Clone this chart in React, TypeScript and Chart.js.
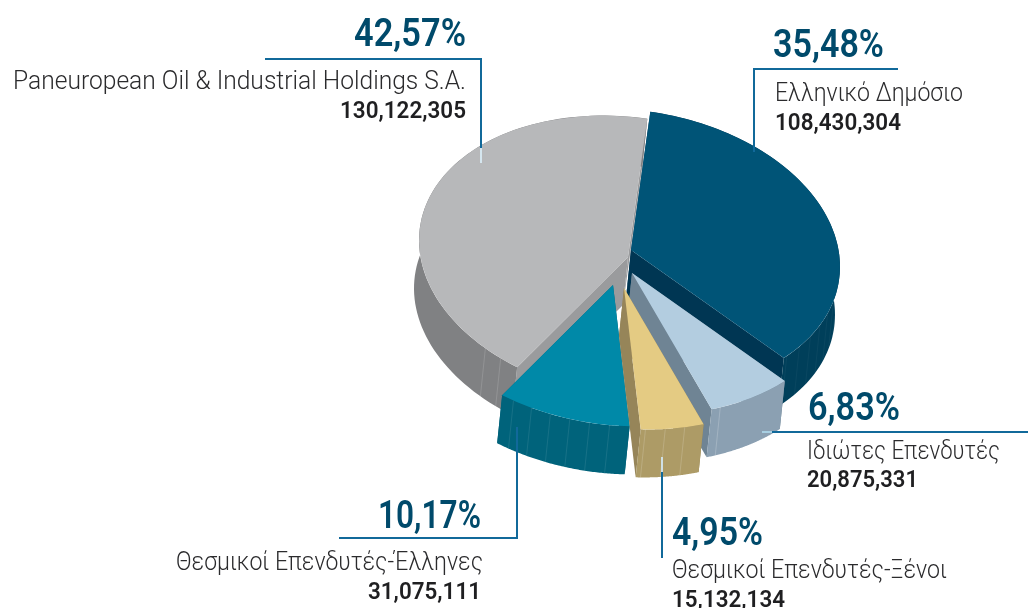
import React, { useEffect, useRef } from "react";
import { Chart, registerables } from "chart.js";

Chart.register(...registerables);

const categories = ["Ελληνικό Δημόσιο", "Ιδιώτες Επενδυτές", "Θεσμικοί Επενδυτές-Ξένοι", "Θεσμικοί Επενδυτές-Έλληνες", "Paneuropean Oil & Industrial Holdings S.A."];
const shares = [108430304, 20875331, 15132134, 31075111, 130122305];
const shareLabels = ["108,430,304", "20,875,331", "15,132,134", "31,075,111", "130,122,305"];
const percentLabels = ["35,48%", "6,83%", "4,95%", "10,17%", "42,57%"];

const topColors = ["#005477", "#b3cde0", "#e4cb83", "#0089a8", "#b7b8ba"];
const rimColors = ["#003f5a", "#8ba0b2", "#ad9b66", "#00637b", "#808183"];
const faceColors = ["#003653", "#6f8494", "#968559", "#00637b", "#9a9b9d"];

// explode vector of each slice on screen, and paint order (back to front)
const explodeX = [3, 4, -4, -15, 0];
const explodeY = [-15, 8, 23, 20, -8];
const paintOrder = [4, 0, 1, 3, 2];
// faint ribs on each rim: alpha and the part of the slice that carries them
const ribAlpha = [0.04, 0.2, 0.17, 0.09, 0.14];
const ribFrom = [0, 0.72, 0, 0, 0];
const ribTo = [1, 1, 1, 1, 0.09];
const SQUASH = 0.672;
const SHEAR = 0.08;
const DEPTH_X = -5;
const DEPTH_Y = 48;

const LEADER = "#11699a";
const leaders: [number, number, number, number, string][] = [
  [265, 59, 482, 59, LEADER],
  [481, 59, 481, 148, LEADER],
  [481, 148, 481, 163, "#d5e6ef"],
  [753, 69, 898, 69, LEADER],
  [754, 69, 754, 152, LEADER],
  [772, 432, 1028, 432, LEADER],
  [762, 432, 772, 432, "#a8cfe2"],
  [517, 427, 517, 538, LEADER],
  [339, 538, 518, 538, LEADER],
  [662, 472, 662, 558, LEADER],
  [662, 457, 662, 472, "#cfe0e6"],
];

type Label = [string, number, number, "left" | "right", string, string, number];
const PCT = "600 38px Roboto";
const NAME = "300 25px Roboto";
const NUM = "600 23px Roboto";
const PCTC = "#004a6b";
const NAMEC = "#2b2b2d";
const NUMC = "#1f1f21";
const labels: Label[] = [
  [percentLabels[4], 466, 46, "right", PCT, PCTC, 112],
  [categories[4], 466, 89, "right", NAME, NAMEC, 453],
  [shareLabels[4], 466, 118, "right", NUM, NUMC, 126],
  [percentLabels[0], 773, 57, "left", PCT, PCTC, 111],
  [categories[0], 775, 101, "left", NAME, NAMEC, 188],
  [shareLabels[0], 775, 130, "left", NUM, NUMC, 126],
  [percentLabels[1], 808, 420, "left", PCT, PCTC, 92],
  [categories[1], 807, 459, "left", NAME, NAMEC, 193],
  [shareLabels[1], 807, 487, "left", NUM, NUMC, 111],
  [percentLabels[2], 672, 545, "left", PCT, PCTC, 91],
  [categories[2], 672, 578, "left", NAME, NAMEC, 275],
  [shareLabels[2], 672, 607, "left", NUM, NUMC, 113],
  [percentLabels[3], 481, 528, "right", PCT, PCTC, 103],
  [categories[3], 483, 570, "right", NAME, NAMEC, 307],
  [shareLabels[3], 481, 599, "right", NUM, NUMC, 113],
];

const pie3d = {
  id: "pie3d",
  beforeDatasetDraw(chart: any) {
    const ctx: CanvasRenderingContext2D = chart.ctx;
    const arcs = chart.getDatasetMeta(0).data;
    for (const i of paintOrder) {
      const arc = arcs[i];
      const { x, y, startAngle, endAngle, outerRadius: r } = arc.getProps(["x", "y", "startAngle", "endAngle", "outerRadius"], true);
      const px = (a: number) => Math.cos(a) * r;
      const py = (a: number) => Math.sin(a) * r * SQUASH + Math.cos(a) * r * SHEAR;
      const span = endAngle - startAngle;
      ctx.save();
      ctx.translate(x + explodeX[i], y + explodeY[i]);

      // radial side faces
      ctx.fillStyle = faceColors[i];
      for (const a of [startAngle, endAngle]) {
        ctx.beginPath();
        ctx.moveTo(0, 0);
        ctx.lineTo(px(a), py(a));
        ctx.lineTo(px(a) + DEPTH_X, py(a) + DEPTH_Y);
        ctx.lineTo(DEPTH_X, DEPTH_Y);
        ctx.closePath();
        ctx.fill();
      }

      // outer rim
      ctx.fillStyle = rimColors[i];
      ctx.beginPath();
      const steps = 80;
      for (let k = 0; k <= steps; k++) {
        const a = startAngle + (span * k) / steps;
        ctx.lineTo(px(a), py(a));
      }
      for (let k = steps; k >= 0; k--) {
        const a = startAngle + (span * k) / steps;
        ctx.lineTo(px(a) + DEPTH_X, py(a) + DEPTH_Y);
      }
      ctx.closePath();
      ctx.fill();

      // faint ribs on the rim
      ctx.strokeStyle = `rgba(255,255,255,${ribAlpha[i]})`;
      ctx.lineWidth = 1;
      const step = (5.5 * Math.PI) / 180;
      for (let a = startAngle + step; a < endAngle; a += step) {
        const f = (a - startAngle) / span;
        if (Math.sin(a) <= 0 || f < ribFrom[i] || f > ribTo[i]) continue;
        ctx.beginPath();
        ctx.moveTo(px(a), py(a));
        ctx.lineTo(px(a) + DEPTH_X, py(a) + DEPTH_Y);
        ctx.stroke();
      }

      // top face: the library's own arc, flattened into a tilted ellipse
      ctx.transform(1, SHEAR, 0, SQUASH, 0, 0);
      ctx.translate(-x, -y);
      arc.draw(ctx);
      ctx.restore();
    }
    return false;
  },
  afterDraw(chart: any) {
    const ctx: CanvasRenderingContext2D = chart.ctx;
    ctx.save();
    ctx.lineWidth = 2;
    for (const [x1, y1, x2, y2, c] of leaders) {
      ctx.strokeStyle = c;
      ctx.beginPath();
      ctx.moveTo(x1, y1);
      ctx.lineTo(x2, y2);
      ctx.stroke();
    }
    ctx.textBaseline = "alphabetic";
    for (const [t, x, y, align, font, color, w] of labels) {
      ctx.font = font;
      ctx.fillStyle = color;
      ctx.textAlign = align;
      const natural = ctx.measureText(t).width;
      ctx.save();
      ctx.translate(x, y);
      ctx.scale(w / natural, 1);
      ctx.fillText(t, 0, 0);
      ctx.restore();
    }
    ctx.restore();
  },
};

export default function App() {
  const ref = useRef<HTMLCanvasElement>(null);
  useEffect(() => {
    document.body.style.margin = "0";
    document.body.style.background = "#ffffff";
    const chart = new Chart(ref.current!, {
      type: "pie",
      data: {
        labels: categories,
        datasets: [{ data: shares, backgroundColor: topColors, borderWidth: 0, radius: 209, rotation: 5.3 }],
      },
      options: {
        responsive: false,
        animation: false,
        layout: { padding: { left: 228, bottom: 78 } },
        plugins: { legend: { display: false }, tooltip: { enabled: false } },
      },
      plugins: [pie3d],
    } as any);
    return () => chart.destroy();
  }, []);
  return <canvas ref={ref} width={1028} height={608} style={{ display: "block" }} />;
}
